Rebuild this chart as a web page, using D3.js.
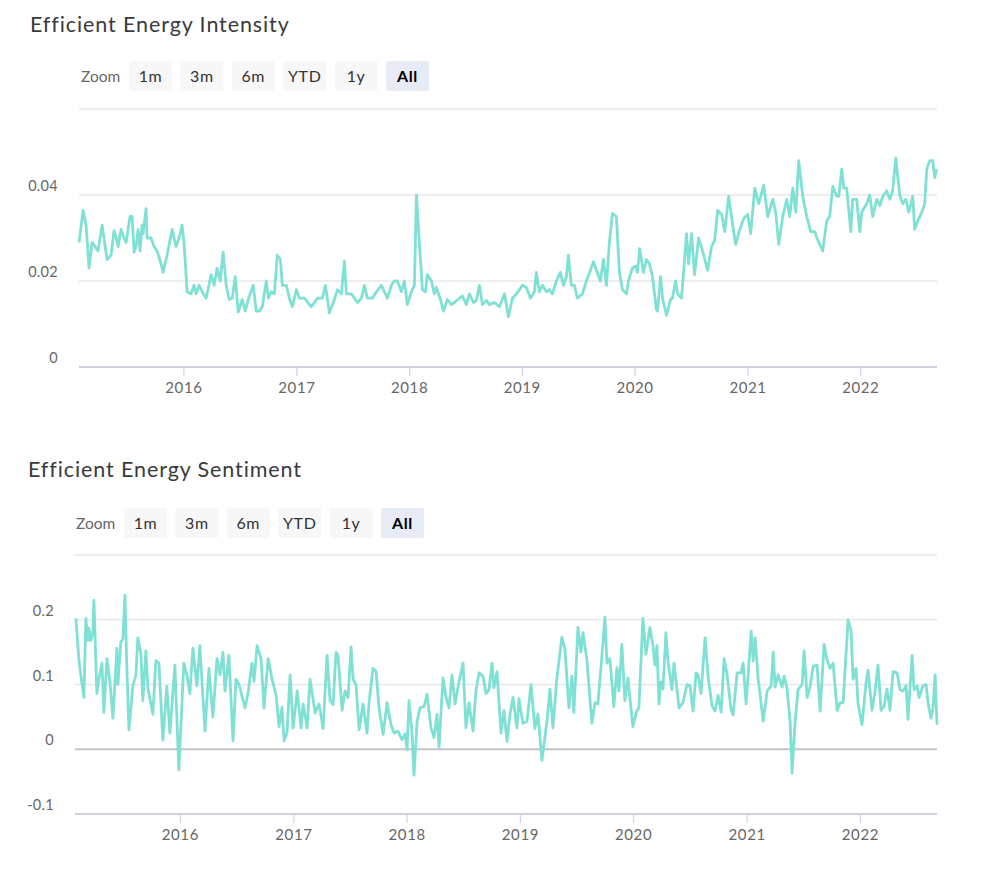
<!DOCTYPE html>
<meta charset="utf-8">
<html>
<head>
<title>Efficient Energy</title>
<script src="https://cdn.jsdelivr.net/npm/d3@7"></script>
<style>
    body { margin: 0; background: #fff; }
    svg text { font-family: Lato, "Open Sans", sans-serif; }
</style>
</head>
<body>
<div id="chart"></div>
<script>
// ---- data (time as decimal year) ----
var intensityYears = [2015.075,2015.110,2015.137,2015.163,2015.190,2015.217,2015.243,2015.279,2015.323,2015.358,2015.385,2015.403,2015.421,2015.447,2015.474,2015.492,2015.527,2015.545,2015.563,2015.580,2015.598,2015.616,2015.634,2015.642,2015.669,2015.678,2015.713,2015.740,2015.767,2015.802,2015.820,2015.855,2015.900,2015.935,2015.962,2015.988,
    2016.006,2016.033,2016.068,2016.095,2016.113,2016.139,2016.166,2016.201,2016.246,2016.272,2016.299,2016.326,2016.352,2016.379,2016.405,2016.432,2016.459,2016.485,2016.521,2016.547,2016.574,2016.618,2016.645,2016.672,2016.698,2016.734,2016.752,2016.778,2016.805,2016.831,2016.858,2016.876,2016.911,2016.938,2016.964,
    2017.000,2017.027,2017.071,2017.133,2017.186,2017.231,2017.257,2017.293,2017.337,2017.364,2017.399,2017.426,2017.444,2017.488,2017.515,2017.541,2017.577,2017.603,2017.630,2017.674,2017.710,2017.754,2017.781,2017.807,2017.843,2017.870,2017.896,2017.932,2017.958,2017.985,
    2018.020,2018.047,2018.065,2018.091,2018.118,2018.145,2018.162,2018.198,2018.224,2018.242,2018.278,2018.304,2018.340,2018.375,2018.402,2018.446,2018.473,2018.508,2018.535,2018.571,2018.597,2018.624,2018.650,2018.686,2018.713,2018.757,2018.801,2018.846,2018.881,2018.917,2018.952,2018.979,
    2019.005,2019.041,2019.076,2019.112,2019.129,2019.156,2019.183,2019.218,2019.245,2019.271,2019.307,2019.342,2019.369,2019.396,2019.413,2019.440,2019.467,2019.493,2019.538,2019.573,2019.609,2019.635,2019.662,2019.697,2019.724,2019.751,2019.777,2019.804,2019.839,2019.866,2019.893,2019.928,2019.946,2019.981,
    2020.008,2020.026,2020.045,2020.079,2020.106,2020.132,2020.159,2020.194,2020.203,2020.230,2020.248,2020.283,2020.318,2020.336,2020.363,2020.381,2020.416,2020.460,2020.478,2020.505,2020.531,2020.567,2020.602,2020.647,2020.682,2020.709,2020.736,2020.771,2020.798,2020.833,2020.869,2020.895,2020.931,2020.966,
    2021.002,2021.028,2021.064,2021.099,2021.144,2021.179,2021.224,2021.250,2021.277,2021.312,2021.348,2021.374,2021.401,2021.428,2021.454,2021.490,2021.525,2021.561,2021.596,2021.623,2021.667,2021.703,2021.729,2021.756,2021.791,2021.809,2021.836,2021.854,2021.880,2021.916,2021.933,2021.969,2021.996,
    2022.013,2022.058,2022.084,2022.111,2022.146,2022.173,2022.200,2022.235,2022.262,2022.288,2022.315,2022.350,2022.377,2022.404,2022.430,2022.466,2022.483,2022.510,2022.546,2022.572,2022.590,2022.617,2022.643,2022.661,2022.679];
var intensityValues = [0.029,0.0364,0.033,0.023,0.029,0.028,0.027,0.033,0.025,0.026,0.0317,0.030,0.028,0.032,0.030,0.029,0.035,0.035,0.0267,0.028,0.032,0.027,0.033,0.031,0.0368,0.030,0.030,0.028,0.027,0.024,0.022,0.026,0.032,0.028,0.030,0.033,
    0.029,0.0175,0.017,0.019,0.017,0.019,0.0175,0.016,0.0215,0.019,0.023,0.020,0.0267,0.019,0.0157,0.016,0.021,0.0128,0.0157,0.013,0.0157,0.019,0.013,0.013,0.014,0.020,0.016,0.0175,0.017,0.026,0.025,0.019,0.019,0.016,0.014,
    0.018,0.016,0.016,0.014,0.016,0.016,0.019,0.0126,0.0157,0.018,0.017,0.0246,0.017,0.017,0.016,0.015,0.016,0.019,0.016,0.016,0.0175,0.019,0.0175,0.016,0.019,0.020,0.020,0.0175,0.020,0.0145,
    0.0175,0.019,0.040,0.029,0.018,0.0175,0.0215,0.020,0.017,0.0185,0.0157,0.013,0.0157,0.0145,0.015,0.016,0.0165,0.0145,0.017,0.015,0.0155,0.019,0.0145,0.0155,0.0145,0.015,0.014,0.017,0.0117,0.016,0.017,0.018,
    0.019,0.0185,0.016,0.0175,0.022,0.0175,0.019,0.0175,0.018,0.017,0.020,0.022,0.019,0.021,0.026,0.019,0.019,0.016,0.017,0.020,0.0225,0.0245,0.0225,0.020,0.025,0.019,0.029,0.0357,0.035,0.022,0.018,0.017,0.020,0.023,
    0.0235,0.022,0.0275,0.022,0.025,0.024,0.021,0.0133,0.013,0.021,0.016,0.012,0.0157,0.016,0.020,0.017,0.016,0.031,0.024,0.031,0.0215,0.030,0.027,0.0225,0.028,0.0295,0.0364,0.0355,0.0315,0.0397,0.033,0.0285,0.032,0.0345,
    0.0355,0.031,0.0416,0.038,0.0423,0.035,0.039,0.036,0.0285,0.035,0.039,0.035,0.0416,0.036,0.048,0.0397,0.035,0.0315,0.0315,0.0295,0.027,0.034,0.035,0.042,0.0397,0.0397,0.046,0.0416,0.0416,0.0315,0.039,0.039,0.0315,
    0.036,0.038,0.040,0.035,0.039,0.0375,0.0397,0.041,0.039,0.041,0.0486,0.040,0.038,0.039,0.036,0.0397,0.032,0.034,0.036,0.038,0.046,0.048,0.048,0.044,0.046];

var sentimentYears = [2015.082,2015.109,2015.135,2015.153,2015.170,2015.188,2015.197,2015.214,2015.232,2015.241,2015.267,2015.285,2015.312,2015.329,2015.356,2015.382,2015.409,2015.444,2015.453,2015.479,2015.497,2015.515,2015.532,2015.550,2015.585,2015.612,2015.629,2015.656,2015.673,2015.700,2015.718,2015.762,2015.788,2015.815,2015.850,2015.885,2015.912,2015.956,2015.991,
    2016.035,2016.062,2016.088,2016.115,2016.150,2016.176,2016.221,2016.256,2016.291,2016.327,2016.353,2016.379,2016.397,2016.432,2016.468,2016.494,2016.521,2016.574,2016.600,2016.635,2016.653,2016.680,2016.715,2016.741,2016.777,2016.812,2016.847,2016.874,2016.900,2016.918,2016.944,2016.971,2016.997,
    2017.033,2017.068,2017.086,2017.121,2017.147,2017.192,2017.227,2017.262,2017.297,2017.324,2017.350,2017.377,2017.394,2017.430,2017.456,2017.483,2017.509,2017.527,2017.553,2017.580,2017.615,2017.650,2017.668,2017.703,2017.730,2017.756,2017.792,2017.827,2017.862,2017.889,2017.924,2017.959,2017.986,
    2018.004,2018.021,2018.048,2018.065,2018.092,2018.118,2018.154,2018.180,2018.215,2018.242,2018.268,2018.286,2018.321,2018.348,2018.374,2018.401,2018.427,2018.462,2018.498,2018.524,2018.551,2018.586,2018.612,2018.639,2018.674,2018.701,2018.727,2018.754,2018.771,2018.798,2018.833,2018.860,2018.886,2018.913,2018.939,2018.974,2018.992,
    2019.027,2019.063,2019.098,2019.133,2019.160,2019.195,2019.239,2019.266,2019.292,2019.327,2019.371,2019.398,2019.433,2019.460,2019.477,2019.513,2019.539,2019.557,2019.592,2019.636,2019.663,2019.689,2019.725,2019.751,2019.769,2019.795,2019.830,2019.857,2019.875,2019.901,2019.927,2019.954,2019.998,
    2020.033,2020.051,2020.086,2020.113,2020.148,2020.175,2020.192,2020.210,2020.228,2020.245,2020.263,2020.289,2020.307,2020.342,2020.360,2020.386,2020.404,2020.439,2020.475,2020.501,2020.528,2020.554,2020.572,2020.598,2020.634,2020.660,2020.695,2020.722,2020.748,2020.775,2020.801,2020.828,2020.863,2020.881,2020.916,2020.951,2020.969,2020.995,
    2021.040,2021.057,2021.075,2021.101,2021.146,2021.181,2021.216,2021.234,2021.251,2021.278,2021.313,2021.331,2021.357,2021.384,2021.401,2021.428,2021.454,2021.490,2021.507,2021.534,2021.560,2021.587,2021.622,2021.649,2021.684,2021.710,2021.737,2021.763,2021.799,2021.825,2021.852,2021.896,2021.922,2021.940,2021.966,2021.984,
    2022.019,2022.055,2022.072,2022.107,2022.134,2022.160,2022.187,2022.213,2022.240,2022.266,2022.293,2022.328,2022.355,2022.381,2022.408,2022.425,2022.461,2022.478,2022.505,2022.522,2022.558,2022.584,2022.602,2022.628,2022.646,2022.664,2022.681];
var sentimentValues = [0.202,0.137,0.102,0.080,0.202,0.168,0.187,0.168,0.180,0.230,0.086,0.108,0.133,0.057,0.140,0.105,0.048,0.156,0.100,0.166,0.170,0.238,0.125,0.030,0.098,0.115,0.172,0.148,0.075,0.152,0.094,0.054,0.137,0.133,0.014,0.097,0.025,0.130,-0.032,
    0.133,0.115,0.086,0.156,0.098,0.160,0.028,0.125,0.050,0.140,0.115,0.150,0.090,0.145,0.013,0.108,0.100,0.064,0.086,0.133,0.105,0.160,0.140,0.064,0.140,0.108,0.084,0.035,0.065,0.013,0.026,0.115,0.033,
    0.090,0.033,0.070,0.033,0.108,0.056,0.070,0.032,0.145,0.075,0.069,0.150,0.145,0.060,0.090,0.080,0.158,0.108,0.100,0.030,0.070,0.025,0.072,0.125,0.120,0.064,0.023,0.072,0.038,0.025,0.028,0.015,0.024,
    -0.001,0.075,0.024,-0.040,0.042,0.064,0.066,0.085,0.033,0.018,0.054,0.003,0.110,0.080,0.064,0.115,0.070,0.104,0.133,0.033,0.072,0.028,0.090,0.118,0.113,0.086,0.092,0.133,0.095,0.120,0.025,0.060,0.012,0.054,0.080,0.033,0.078,
    0.040,0.043,0.100,0.032,0.054,-0.017,0.043,0.093,0.033,0.110,0.173,0.155,0.064,0.113,0.057,0.188,0.150,0.180,0.138,0.040,0.072,0.070,0.145,0.204,0.133,0.140,0.066,0.126,0.090,0.162,0.075,0.110,0.035,
    0.060,0.064,0.202,0.147,0.188,0.160,0.130,0.160,0.070,0.104,0.093,0.180,0.136,0.092,0.133,0.093,0.064,0.072,0.100,0.098,0.059,0.118,0.115,0.086,0.172,0.113,0.067,0.059,0.083,0.057,0.140,0.115,0.060,0.053,0.118,0.118,0.133,0.070,
    0.182,0.136,0.172,0.110,0.043,0.090,0.098,0.150,0.096,0.115,0.096,0.113,0.093,0.043,-0.037,0.043,0.092,0.100,0.152,0.080,0.096,0.128,0.130,0.059,0.162,0.138,0.125,0.133,0.060,0.072,0.072,0.200,0.183,0.108,0.125,0.070,
    0.038,0.104,0.122,0.060,0.090,0.130,0.060,0.066,0.093,0.060,0.120,0.118,0.092,0.090,0.098,0.046,0.145,0.092,0.098,0.080,0.098,0.100,0.072,0.048,0.064,0.115,0.038];

var zoomLabels = ["1m", "3m", "6m", "YTD", "1y", "All"];
var intensityTicks = [0, 0.02, 0.04, 0.06];
var sentimentTicks = [-0.1, 0, 0.1, 0.2, 0.3];
var startYear = 2015.074, endYear = 2022.681;

// ---- helpers ----
function toDate(y) {
    var yr = Math.floor(y);
    var a = Date.UTC(yr, 0, 1), b = Date.UTC(yr + 1, 0, 1);
    return new Date(a + (y - yr) * (b - a));
}

var lineColor = "#7fe0d4";
var svg = d3.select("#chart").append("svg")
    .attr("width", 987)
    .attr("height", 871);

function drawChart(cfg) {
    var g = svg.append("g");

    // title
    g.append("text")
        .attr("x", cfg.titleX).attr("y", cfg.titleY)
        .style("font-size", "21.5px").style("fill", "#3a3a3a")
        .style("letter-spacing", "0.9px")
        .text(cfg.title);

    // zoom buttons
    g.append("text")
        .attr("x", cfg.btnX - 48).attr("y", cfg.btnY + 21)
        .style("font-size", "15.5px").style("fill", "#666")
        .text("Zoom");
    var btn = g.selectAll(".btn").data(zoomLabels).enter().append("g")
        .attr("transform", function(d, i){ return "translate(" + (cfg.btnX + i * 51.4) + "," + cfg.btnY + ")"; });
    btn.append("rect")
        .attr("width", 43).attr("height", 30).attr("rx", 2)
        .style("fill", function(d){ return d === "All" ? "#e6ebf5" : "#f7f7f7"; });
    btn.append("text")
        .attr("x", 21.5).attr("y", 21)
        .attr("text-anchor", "middle")
        .style("font-size", "16px")
        .style("letter-spacing", "0.6px")
        .style("font-weight", function(d){ return d === "All" ? "bold" : "normal"; })
        .style("fill", function(d){ return d === "All" ? "#000" : "#333"; })
        .text(function(d){ return d; });

    var x = d3.scaleUtc()
        .domain([toDate(startYear), toDate(endYear)])
        .range([cfg.left, cfg.right]);
    var y = d3.scaleLinear()
        .domain(cfg.yDomain)
        .range([cfg.bottom, cfg.top]);

    // grid
    g.selectAll(".grid").data(cfg.ticks).enter().append("line")
        .attr("x1", cfg.left).attr("x2", cfg.right)
        .attr("y1", function(d){ return y(d); })
        .attr("y2", function(d){ return y(d); })
        .style("stroke", function(d){
            if (d === cfg.yDomain[0]) return "#ccd0e0";
            if (d === 0) return "#c4c4c4";
            return "#e8e8e8";
        })
        .style("stroke-width", function(d){ return (d === 0 || d === cfg.yDomain[0]) ? 2 : 1.4; });

    // y labels (top one hidden)
    g.selectAll(".ylab").data(cfg.ticks.slice(0, -1)).enter().append("text")
        .attr("x", cfg.labelX)
        .attr("y", function(d){ return y(d) - 4; })
        .attr("text-anchor", "end")
        .style("font-size", "14.5px").style("fill", "#666")
        .style("letter-spacing", "0.3px")
        .text(function(d){ return d; });

    // x axis
    var xAxis = d3.axisBottom(x)
        .ticks(d3.utcYear.every(1))
        .tickFormat(d3.utcFormat("%Y"))
        .tickSize(9)
        .tickPadding(6);
    var ax = g.append("g")
        .attr("transform", "translate(0," + cfg.bottom + ")")
        .call(xAxis);
    ax.select(".domain").remove();
    ax.selectAll(".tick line").style("stroke", "#ccd6eb").style("stroke-width", 1.2);
    ax.selectAll(".tick text")
        .style("font-size", "15px").style("fill", "#666")
        .style("letter-spacing", "0.6px")
        .style("font-family", "Lato, 'Open Sans', sans-serif");
    ax.selectAll(".tick").filter(function(d){ return d < x.domain()[0]; }).remove();

    // series
    var pts = cfg.years.map(function(t, i){ return {date: toDate(t), value: cfg.values[i]}; });
    var line = d3.line()
        .x(function(d){ return x(d.date); })
        .y(function(d){ return y(d.value); });
    g.append("path")
        .datum(pts)
        .attr("d", line)
        .style("fill", "none")
        .style("stroke", lineColor)
        .style("stroke-width", 2.8)
        .style("stroke-linejoin", "round");
}

drawChart({
    title: "Efficient Energy Intensity",
    titleX: 30, titleY: 32,
    btnX: 129, btnY: 61,
    left: 79, right: 937, top: 109, bottom: 367,
    labelX: 58,
    yDomain: [0, 0.06], ticks: intensityTicks,
    years: intensityYears, values: intensityValues
});

drawChart({
    title: "Efficient Energy Sentiment",
    titleX: 28, titleY: 477,
    btnX: 124, btnY: 508,
    left: 75, right: 937, top: 555, bottom: 814,
    labelX: 54,
    yDomain: [-0.1, 0.3], ticks: sentimentTicks,
    years: sentimentYears, values: sentimentValues
});
</script>
</body>
</html>
